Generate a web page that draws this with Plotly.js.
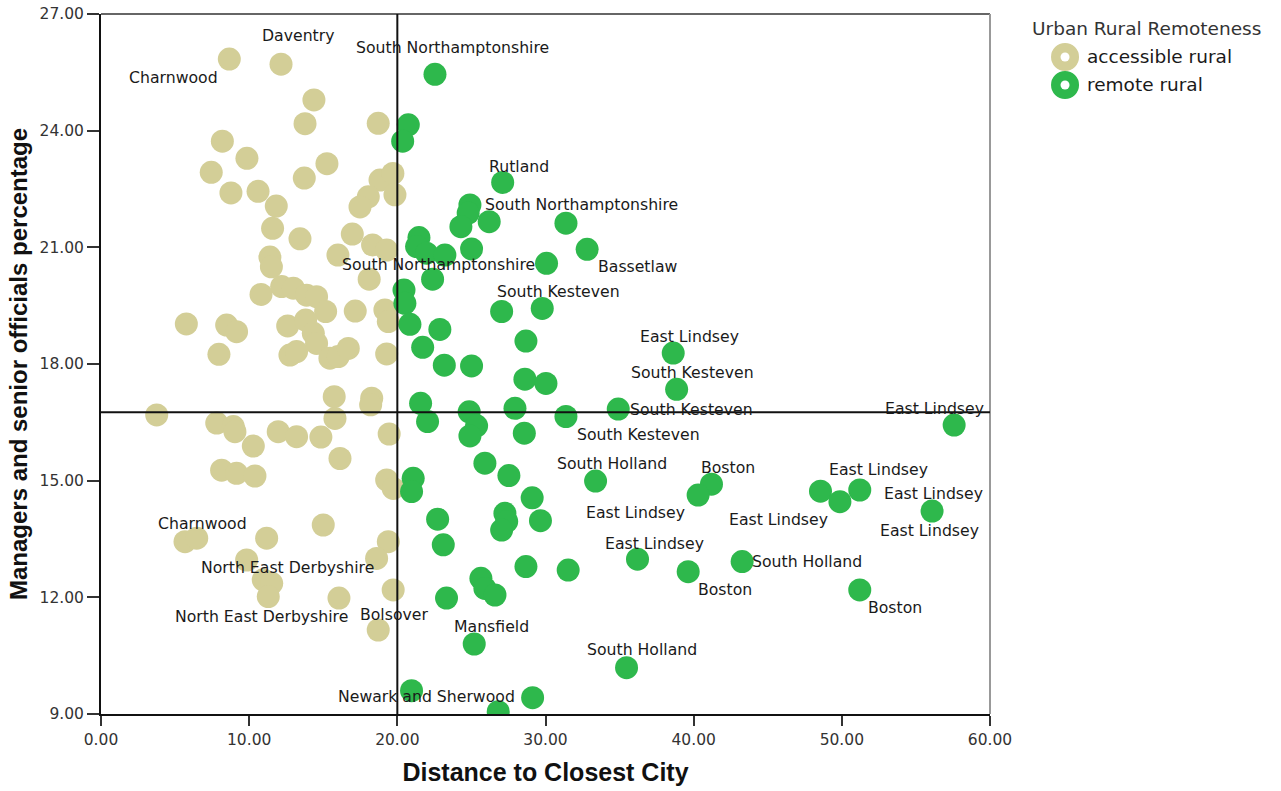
<!DOCTYPE html>
<html>
<head>
<meta charset="utf-8">
<script src="https://cdn.plot.ly/plotly-3.0.1.min.js"></script>
<style>html,body{margin:0;padding:0;background:#fff;}#chart{width:1281px;height:791px;}</style>
</head>
<body>
<div id="chart"></div>
<script>
// ---------- data ----------
const accessibleX = [8.66,12.15,14.37,13.77,18.71,8.19,9.85,15.25,7.44,13.72,8.77,10.60,11.83,11.58,13.43,16.96,18.33,11.40,15.99,18.83,19.70,18.04,17.48,19.84,11.50,18.10,10.80,12.19,12.98,13.88,14.55,15.16,17.16,19.16,19.39,5.76,8.48,9.15,12.60,13.81,14.33,14.55,7.96,12.75,13.20,15.45,16.01,16.69,19.28,15.74,18.27,18.20,3.76,15.79,7.81,8.93,9.04,10.28,11.96,13.20,14.84,19.45,16.13,8.14,9.15,10.39,19.28,19.72,15.00,5.67,6.46,11.18,19.39,9.83,18.60,10.95,11.52,11.29,16.06,19.72,18.71,19.28];
const accessibleY = [25.84,25.71,24.79,24.18,24.19,23.73,23.29,23.15,22.93,22.78,22.40,22.44,22.06,21.49,21.22,21.34,21.06,20.75,20.80,22.73,22.90,22.30,22.04,22.35,20.50,20.18,19.79,19.99,19.95,19.77,19.73,19.35,19.36,19.39,19.09,19.03,19.00,18.83,18.98,19.13,18.79,18.53,18.25,18.23,18.32,18.15,18.19,18.40,18.26,17.16,17.12,16.95,16.69,16.60,16.48,16.39,16.26,15.89,16.26,16.13,16.12,16.20,15.57,15.27,15.19,15.12,15.02,14.80,13.86,13.43,13.52,13.52,13.43,12.96,13.00,12.45,12.36,12.02,11.98,12.19,11.16,20.93];

const remoteX = [22.54,20.74,20.36,27.11,24.90,24.78,24.29,26.20,31.38,32.81,21.46,21.30,21.97,23.21,25.01,30.07,22.38,20.45,20.51,27.04,29.78,20.85,22.87,21.71,28.68,38.62,23.17,25.01,28.61,30.03,38.85,21.57,24.85,27.94,31.38,34.91,22.04,25.35,24.90,28.57,25.91,27.53,33.38,21.07,20.96,29.10,27.26,27.38,27.04,29.66,22.72,23.10,36.21,39.63,28.68,31.53,25.64,25.91,26.59,23.32,25.19,35.47,20.96,29.13,26.81,57.58,41.20,40.30,48.56,49.87,51.21,56.09,43.27,51.21];
const remoteY = [25.45,24.15,23.73,22.67,22.09,21.88,21.53,21.66,21.62,20.95,21.25,21.02,20.85,20.80,20.96,20.59,20.18,19.90,19.56,19.35,19.43,19.02,18.89,18.43,18.59,18.28,17.97,17.95,17.61,17.50,17.35,16.99,16.77,16.86,16.65,16.84,16.52,16.41,16.15,16.22,15.45,15.13,14.99,15.06,14.72,14.56,14.16,13.95,13.73,13.97,14.01,13.35,12.98,12.66,12.79,12.70,12.49,12.23,12.06,11.98,10.80,10.19,9.60,9.42,9.06,16.43,14.91,14.63,14.73,14.46,14.76,14.22,12.92,12.19];

const seriesNames = ["accessible rural", "remote rural"];
const legendTitle = "Urban Rural Remoteness";

// reference lines (data values)
const refX = 20;
const refY = 16.76;

// point labels: text and the data position where the label sits
const labelText = ["Daventry","Charnwood","South Northamptonshire","Rutland","South Northamptonshire","South Northamptonshire","Bassetlaw","South Kesteven","East Lindsey","South Kesteven","South Kesteven","South Kesteven","East Lindsey","South Holland","Boston","East Lindsey","East Lindsey","East Lindsey","East Lindsey","East Lindsey","East Lindsey","South Holland","Boston","Boston","Charnwood","North East Derbyshire","North East Derbyshire","Bolsover","Mansfield","South Holland","Newark and Sherwood"];
const labelX = [13.29,4.86,23.75,28.18,32.46,22.81,36.23,30.91,39.74,39.95,39.88,36.30,56.28,34.52,42.31,52.50,56.21,36.10,45.75,55.94,37.38,47.64,42.11,53.58,6.82,12.60,10.86,19.77,26.38,36.54,22.00];
const labelY = [26.46,25.38,26.14,23.09,22.10,20.56,20.50,19.86,18.72,17.79,16.84,16.20,16.86,15.44,15.33,15.28,14.68,14.17,14.01,13.73,13.39,12.93,12.21,11.75,13.90,12.78,11.52,11.57,11.24,10.65,9.44];

const xTicks = [0,10,20,30,40,50,60];
const yTicks = [9,12,15,18,21,24,27];

// ---------- styles ----------
const TXT_FONT = "DejaVu Sans, Verdana, sans-serif";
const TITLE_FONT = "Liberation Sans, Arial, sans-serif";
const colAccessible = "#d3ce97";
const colRemote = "#2eb84c";

const traces = [
  {x: accessibleX, y: accessibleY, name: seriesNames[0], type: "scatter", mode: "markers",
   marker: {size: 23, color: colAccessible}, showlegend: false, hoverinfo: "x+y"},
  {x: remoteX, y: remoteY, name: seriesNames[1], type: "scatter", mode: "markers",
   marker: {size: 23, color: colRemote}, showlegend: false, hoverinfo: "x+y"}
];

const annotations = labelText.map((t, i) => ({
  x: labelX[i], y: labelY[i], xref: "x", yref: "y", text: t, showarrow: false,
  font: {family: TXT_FONT, size: 15.7, color: "#1a1a1a"}, xanchor: "center", yanchor: "middle"
}));

// legend (drawn manually to match big ring symbols)
const legX = 1.0844, legY = [0.9386, 0.8986], legCols = [colAccessible, colRemote];
annotations.push({x: 1.1766, y: 0.9786, xref: "paper", yref: "paper", text: legendTitle,
  showarrow: false, xanchor: "center", yanchor: "middle", font: {family: TXT_FONT, size: 18.5, color: "#333"}});
seriesNames.forEach((n, i) => annotations.push({x: 1.107, y: legY[i], xref: "paper", yref: "paper",
  text: n, showarrow: false, xanchor: "left", yanchor: "middle", font: {family: TXT_FONT, size: 18.5, color: "#1a1a1a"}}));

const shapes = [
  // frame top/right
  {type: "line", xref: "paper", yref: "paper", x0: 0, x1: 1, y0: 1, y1: 1, line: {color: "#666", width: 2}},
  {type: "line", xref: "paper", yref: "paper", x0: 1, x1: 1, y0: 0, y1: 1, line: {color: "#999", width: 2}},
  // reference lines
  {type: "line", xref: "x", yref: "paper", x0: refX, x1: refX, y0: 0, y1: 1, line: {color: "#111", width: 2}},
  {type: "line", xref: "paper", yref: "y", x0: 0, x1: 1, y0: refY, y1: refY, line: {color: "#111", width: 2}}
];
legCols.forEach((c, i) => {
  shapes.push({type: "circle", xref: "paper", yref: "paper", xsizemode: "pixel", ysizemode: "pixel",
    xanchor: legX, yanchor: legY[i], x0: -14, x1: 14, y0: -14, y1: 14, fillcolor: c, line: {width: 0}});
  shapes.push({type: "circle", xref: "paper", yref: "paper", xsizemode: "pixel", ysizemode: "pixel",
    xanchor: legX, yanchor: legY[i], x0: -4.5, x1: 4.5, y0: -4.5, y1: 4.5, fillcolor: "#fff", line: {width: 0}});
});

const layout = {
  width: 1281, height: 791,
  margin: {l: 101, r: 291, t: 14, b: 77},
  paper_bgcolor: "#fff", plot_bgcolor: "#fff",
  showlegend: false,
  font: {family: TXT_FONT, color: "#222"},
  xaxis: {
    range: [0, 60], tickvals: xTicks, ticktext: xTicks.map(v => v.toFixed(2)),
    showgrid: false, zeroline: false, showline: true, linecolor: "#111", linewidth: 2,
    ticks: "outside", ticklen: 10, tickwidth: 2, tickcolor: "#333",
    tickfont: {family: TXT_FONT, size: 15.5, color: "#333"},
    title: {text: "Distance to Closest City", font: {family: TITLE_FONT, size: 25, color: "#111", weight: "bold"}, standoff: 16}
  },
  yaxis: {
    range: [9, 27], tickvals: yTicks, ticktext: yTicks.map(v => v.toFixed(2)),
    showgrid: false, zeroline: false, showline: true, linecolor: "#111", linewidth: 2,
    ticks: "outside", ticklen: 12, tickwidth: 2, tickcolor: "#333",
    tickfont: {family: TXT_FONT, size: 15.5, color: "#333"},
    title: {text: "Managers and senior officials percentage", font: {family: TITLE_FONT, size: 24, color: "#111", weight: "bold"}, standoff: 5}
  },
  shapes: shapes,
  annotations: annotations
};

Plotly.newPlot("chart", traces, layout, {displayModeBar: false, staticPlot: true});
</script>
</body>
</html>
